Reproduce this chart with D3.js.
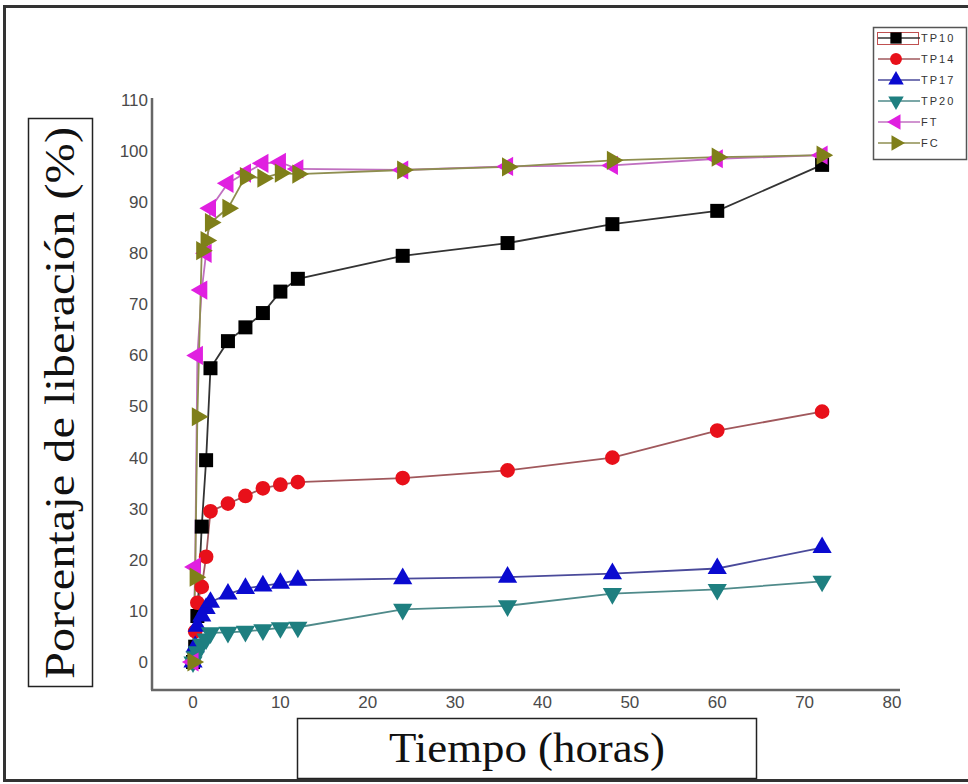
<!DOCTYPE html>
<html>
<head>
<meta charset="utf-8">
<script src="https://cdn.jsdelivr.net/npm/d3@7.9.0/dist/d3.min.js"></script>
<style>
  html, body { margin: 0; padding: 0; background: #fff; }
  svg { display: block; }
  .tick-label { font-family: Arial, "Liberation Sans", sans-serif; font-size: 17px; fill: #4a4a4a; }
  .legend-label { font-family: Arial, "Liberation Sans", sans-serif; font-size: 11px; fill: #333; letter-spacing: 2px; }
  .axis-title { font-family: "Times New Roman", "Liberation Serif", serif; fill: #111; }
</style>
</head>
<body>
<svg id="chart" width="968" height="784"></svg>
<script>
// sampling times (hours)
const hours = [0, 0.25, 0.5, 1, 1.5, 2, 4, 6, 8, 10, 12, 24, 36, 48, 60, 72];

// % released per formulation
const tp10 = [0, 3, 9, 26.5, 39.5, 57.5, 62.8, 65.5, 68.3, 72.5, 75, 79.5, 82, 85.7, 88.3, 97.3];
const tp14 = [0, 6, 11.6, 14.7, 20.6, 29.5, 31, 32.5, 34, 34.7, 35.2, 36, 37.5, 40, 45.3, 49];
const tp17 = [0, 3, 7, 9, 10.5, 11.7, 13.3, 14.4, 14.9, 15.4, 16, 16.3, 16.6, 17.3, 18.3, 22.4];
const tp20 = [0, 1, 2, 3.5, 4.5, 5.7, 5.8, 6, 6.3, 6.7, 6.8, 10.3, 11, 13.4, 14.2, 15.8];
const ft   = [0, 18.6, 60, 72.8, 80, 88.8, 93.7, 95.7, 97.6, 97.8, 96.5, 96.3, 97, 97.2, 98.5, 99.2];
const fc   = [0, 16.6, 48, 80.5, 82.5, 86, 88.8, 95, 94.7, 95.7, 95.5, 96.3, 96.9, 98.2, 98.8, 99.2];

const names = ['TP10', 'TP14', 'TP17', 'TP20', 'FT', 'FC'];
const xTicks = [0, 10, 20, 30, 40, 50, 60, 70, 80];
const yTicks = [0, 10, 20, 30, 40, 50, 60, 70, 80, 90, 100, 110];

const series = [
  { name: 'TP10', values: tp10, fill: '#000000', line: '#333333', shape: d3.symbolSquare, size: 196, rot: 0 },
  { name: 'TP14', values: tp14, fill: '#e8101a', line: '#a0585c', shape: d3.symbolCircle, size: 170, rot: 0 },
  { name: 'TP17', values: tp17, fill: '#0a0ad0', line: '#4a4a9a', shape: d3.symbolTriangle, size: 160, rot: 0 },
  { name: 'TP20', values: tp20, fill: '#1e7f80', line: '#4f8a8a', shape: d3.symbolTriangle, size: 160, rot: 180 },
  { name: 'FT',   values: ft,   fill: '#e020e0', line: '#c070c0', shape: d3.symbolTriangle, size: 160, rot: -90 },
  { name: 'FC',   values: fc,   fill: '#7f7f1a', line: '#8e8e50', shape: d3.symbolTriangle, size: 160, rot: 90 }
];

const svg = d3.select('#chart');

// outer frame
svg.append('rect')
  .attr('x', 4.5).attr('y', 6.5)
  .attr('width', 1000).attr('height', 774)
  .attr('fill', 'none').attr('stroke', '#333').attr('stroke-width', 3);

const x = d3.scaleLinear().domain([0, 80]).range([193, 892]);
const y = d3.scaleLinear().domain([0, 110]).range([662, 100]);

// axis lines
svg.append('line')
  .attr('x1', 152).attr('x2', 152)
  .attr('y1', 98).attr('y2', 690)
  .attr('stroke', '#666').attr('stroke-width', 2.5);
svg.append('line')
  .attr('x1', 151).attr('x2', 900)
  .attr('y1', 690).attr('y2', 690)
  .attr('stroke', '#666').attr('stroke-width', 2.5);

svg.append('g').selectAll('text')
  .data(yTicks)
  .join('text')
    .attr('class', 'tick-label')
    .attr('x', 148)
    .attr('y', d => y(d))
    .attr('dy', '0.35em')
    .attr('text-anchor', 'end')
    .text(d => d);

svg.append('g').selectAll('text')
  .data(xTicks)
  .join('text')
    .attr('class', 'tick-label')
    .attr('x', d => x(d))
    .attr('y', 708)
    .attr('text-anchor', 'middle')
    .text(d => d);

// series
const line = d3.line().x(d => x(d[0])).y(d => y(d[1]));

series.forEach(s => {
  const pts = hours.map((h, i) => [h, s.values[i]]);
  svg.append('path')
    .datum(pts)
    .attr('d', line)
    .attr('fill', 'none')
    .attr('stroke', s.line)
    .attr('stroke-width', 1.8);
});

series.forEach(s => {
  const pts = hours.map((h, i) => [h, s.values[i]]);
  svg.append('g').selectAll('path')
    .data(pts)
    .join('path')
      .attr('d', d3.symbol(s.shape, s.size))
      .attr('transform', d => `translate(${x(d[0])},${y(d[1])}) rotate(${s.rot})`)
      .attr('fill', s.fill);
});

// legend
const lg = svg.append('g');
lg.append('rect')
  .attr('x', 873.5).attr('y', 27.5)
  .attr('width', 93).attr('height', 132)
  .attr('fill', '#fff').attr('stroke', '#555').attr('stroke-width', 1.5);
lg.append('rect')
  .attr('x', 877.5).attr('y', 32.5)
  .attr('width', 41).attr('height', 12)
  .attr('fill', 'none').attr('stroke', '#c05050').attr('stroke-width', 1);

series.forEach((s, i) => {
  const ly = 38 + i * 21;
  lg.append('line')
    .attr('x1', 878).attr('x2', 920)
    .attr('y1', ly).attr('y2', ly)
    .attr('stroke', s.line).attr('stroke-width', 1.5);
  lg.append('path')
    .attr('d', d3.symbol(s.shape, s.size * 0.65))
    .attr('transform', `translate(896,${ly}) rotate(${s.rot})`)
    .attr('fill', s.fill);
  lg.append('text')
    .attr('class', 'legend-label')
    .attr('x', 921).attr('y', ly)
    .attr('dy', '0.35em')
    .text(names[i]);
});

// axis titles in boxes
svg.append('rect')
  .attr('x', 28.5).attr('y', 118.5)
  .attr('width', 64).attr('height', 568)
  .attr('fill', 'none').attr('stroke', '#222').attr('stroke-width', 1.5);
svg.append('text')
  .attr('class', 'axis-title')
  .attr('transform', 'translate(74,403) rotate(-90)')
  .attr('text-anchor', 'middle')
  .attr('font-size', 42)
  .attr('textLength', 552)
  .attr('lengthAdjust', 'spacingAndGlyphs')
  .text('Porcentaje de liberación (%)');

svg.append('rect')
  .attr('x', 297.5).attr('y', 718.5)
  .attr('width', 459).attr('height', 60)
  .attr('fill', 'none').attr('stroke', '#222').attr('stroke-width', 1.5);
svg.append('text')
  .attr('class', 'axis-title')
  .attr('x', 527).attr('y', 762)
  .attr('text-anchor', 'middle')
  .attr('font-size', 42)
  .attr('textLength', 276)
  .attr('lengthAdjust', 'spacingAndGlyphs')
  .text('Tiempo (horas)');
</script>
</body>
</html>
